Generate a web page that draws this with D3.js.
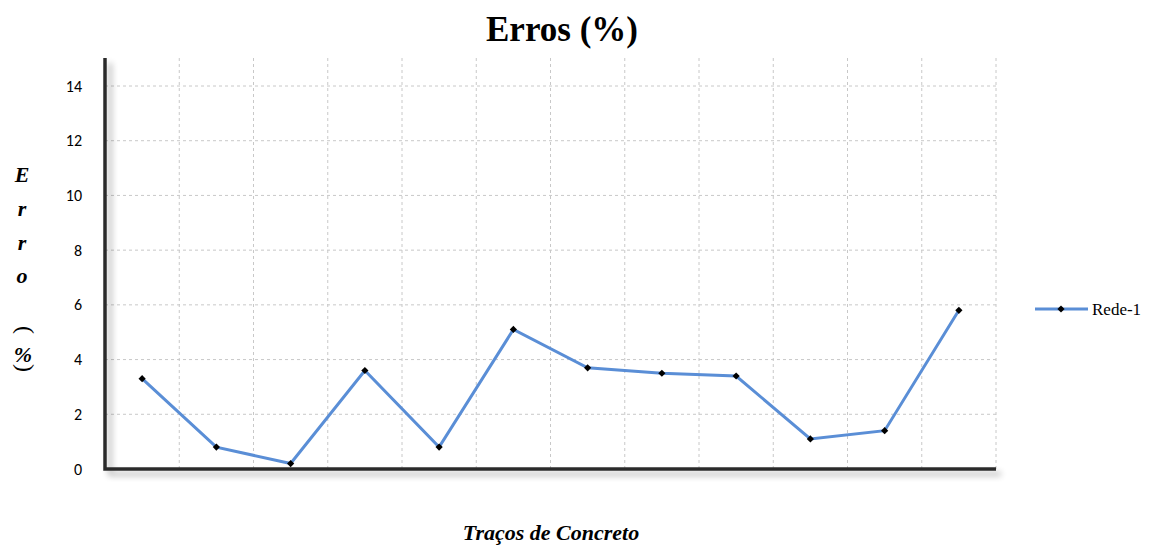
<!DOCTYPE html>
<html>
<head>
<meta charset="utf-8">
<script src="https://cdn.jsdelivr.net/npm/d3@7"></script>
<style>
  body { margin: 0; background: #fff; }
</style>
</head>
<body>
<script>
// data
var categories = ["1", "2", "3", "4", "5", "6", "7", "8", "9", "10", "11", "12"];
var rede1 = [3.3, 0.8, 0.2, 3.6, 0.8, 5.1, 3.7, 3.5, 3.4, 1.1, 1.4, 5.8];
var yTicks = [0, 2, 4, 6, 8, 10, 12, 14];

var w = 1155;
var h = 545;
var pLeft = 105, pRight = 996, pTop = 58, pBottom = 469;

var svg = d3.select("body")
            .append("svg")
            .attr("width", w)
            .attr("height", h);

//shadow filter for the axes
var defs = svg.append("defs");
var f = defs.append("filter").attr("id", "shadow")
            .attr("filterUnits", "userSpaceOnUse")
            .attr("x", 80).attr("y", 40).attr("width", 950).attr("height", 460);
f.append("feGaussianBlur").attr("in", "SourceAlpha").attr("stdDeviation", 3).attr("result", "blur");
f.append("feOffset").attr("dx", 5).attr("dy", 5).attr("result", "off");
f.append("feComponentTransfer").append("feFuncA").attr("type", "linear").attr("slope", 0.3);
var merge = f.append("feMerge");
merge.append("feMergeNode");
merge.append("feMergeNode").attr("in", "SourceGraphic");

var x = d3.scaleBand().domain(categories).range([pLeft, pRight]);
var y = d3.scaleLinear().domain([0, 14]).range([pBottom, 86]);

//grid
var grid = svg.append("g");
grid.selectAll("line.h")
    .data(yTicks.filter(function(d) { return d > 0; }))
    .enter().append("line")
    .attr("x1", pLeft).attr("x2", pRight)
    .attr("y1", function(d) { return y(d); })
    .attr("y2", function(d) { return y(d); })
    .attr("stroke", "#c8c8c8").attr("stroke-dasharray", "3,3");
grid.selectAll("line.v")
    .data(categories)
    .enter().append("line")
    .attr("x1", function(d) { return x(d) + x.bandwidth(); })
    .attr("x2", function(d) { return x(d) + x.bandwidth(); })
    .attr("y1", pTop).attr("y2", pBottom)
    .attr("stroke", "#c8c8c8").attr("stroke-dasharray", "3,3");

//axes with shadow
svg.append("path")
    .attr("d", "M" + pLeft + "," + pTop + "V" + pBottom + "H" + pRight)
    .attr("fill", "none").attr("stroke", "#2b2b2b").attr("stroke-width", 3.5)
    .attr("filter", "url(#shadow)");

//y tick labels
var yAxis = d3.axisLeft(y).tickValues(yTicks).tickSize(0).tickPadding(23);
var ya = svg.append("g").attr("transform", "translate(" + pLeft + ",0)").call(yAxis);
ya.select(".domain").remove();
ya.selectAll("text").attr("font-family", "Carlito, 'Open Sans', sans-serif")
    .attr("font-size", 16).attr("fill", "#000");

//line
var line = d3.line()
    .x(function(d, i) { return x(categories[i]) + x.bandwidth() / 2; })
    .y(function(d) { return y(d); });

svg.append("path")
    .datum(rede1)
    .attr("d", line)
    .attr("fill", "none")
    .attr("stroke", "#5a8ed6")
    .attr("stroke-width", 3);

var diamond = d3.symbol().type(d3.symbolSquare).size(26);
svg.selectAll("path.pt")
    .data(rede1)
    .enter().append("path")
    .attr("class", "pt")
    .attr("d", diamond)
    .attr("transform", function(d, i) {
        return "translate(" + (x(categories[i]) + x.bandwidth() / 2) + "," + y(d) + ") rotate(45)";
    })
    .attr("fill", "#000");

//title
svg.append("text")
    .attr("x", 562).attr("y", 41)
    .attr("text-anchor", "middle")
    .attr("font-family", "'Liberation Serif', 'Times New Roman', serif")
    .attr("font-weight", "bold").attr("font-size", 35)
    .text("Erros (%)");

//x label
svg.append("text")
    .attr("x", 551).attr("y", 540)
    .attr("text-anchor", "middle")
    .attr("font-family", "'Liberation Serif', 'Times New Roman', serif")
    .attr("font-weight", "bold").attr("font-style", "italic").attr("font-size", 22)
    .text("Traços de Concreto");

//y label, stacked letters
var yl = svg.append("g")
    .attr("font-family", "'Liberation Serif', 'Times New Roman', serif")
    .attr("font-weight", "bold").attr("font-style", "italic").attr("font-size", 22);
var letters = [["E", 182], ["r", 216], ["r", 250], ["o", 283]];
letters.forEach(function(l) {
    yl.append("text").attr("x", 22).attr("y", l[1]).attr("text-anchor", "middle").text(l[0]);
});
//parentheses turned sideways
yl.append("text")
    .attr("transform", "translate(29,330) rotate(-90)")
    .attr("text-anchor", "middle")
    .attr("font-style", "normal").attr("font-weight", "normal").attr("font-size", 24)
    .text(")");
yl.append("text").attr("x", 23).attr("y", 362).attr("text-anchor", "middle").text("%");
yl.append("text")
    .attr("transform", "translate(29,368) rotate(-90)")
    .attr("text-anchor", "middle")
    .attr("font-style", "normal").attr("font-weight", "normal").attr("font-size", 24)
    .text("(");

//legend
var lg = svg.append("g").attr("transform", "translate(1035,309)");
lg.append("line").attr("x1", 0).attr("x2", 53).attr("stroke", "#5a8ed6").attr("stroke-width", 3);
lg.append("path").attr("d", diamond).attr("transform", "translate(26,0) rotate(45)").attr("fill", "#000");
lg.append("text").attr("x", 57).attr("y", 6)
    .attr("font-family", "'Liberation Serif', 'Times New Roman', serif")
    .attr("font-size", 17)
    .text("Rede-1");
</script>
</body>
</html>
